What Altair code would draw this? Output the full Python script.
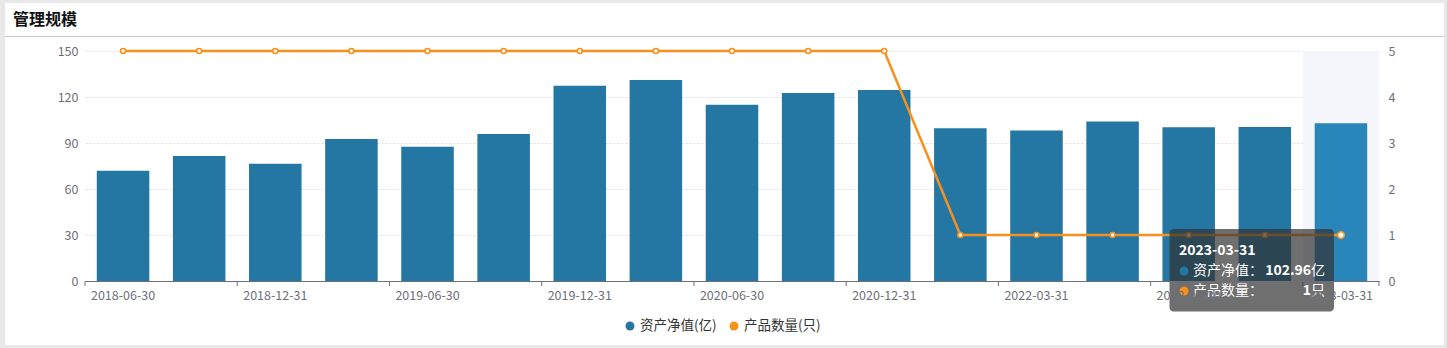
import altair as alt
import pandas as pd

# ---- data ----
cats = ["2018-06-30", "2018-09-30", "2018-12-31", "2019-03-31", "2019-06-30",
        "2019-09-30", "2019-12-31", "2020-03-31", "2020-06-30", "2020-09-30",
        "2020-12-31", "2021-12-31", "2022-03-31", "2022-06-30", "2022-09-30",
        "2022-12-31", "2023-03-31"]
nav = [71.9, 81.5, 76.5, 92.6, 87.6, 95.9, 127.4, 131.1, 115.0, 122.6,
       124.6, 99.7, 98.2, 104.1, 100.2, 100.4, 102.96]
counts = [5, 5, 5, 5, 5, 5, 5, 5, 5, 5, 5, 1, 1, 1, 1, 1, 1]
label_cats = cats[::2]
title_text = "管理规模"
legend_labels = ["资产净值(亿)", "产品数量(只)"]
tip_date = "2023-03-31"
tip_names = ["资产净值：", "产品数量："]
tip_values = ["102.96", "1"]
tip_units = ["亿", "只"]

BLUE = "#2377a2"
BLUE_HI = "#2886bb"
ORANGE = "#f7911d"
FRAME = "#e8e8e8"
FONT = "Noto Sans CJK SC"
W, H = 1294, 230

df = pd.DataFrame({"cat": cats, "nav": nav, "count": counts})
last = cats[-1]
one = pd.DataFrame({"a": [0]})


def txt(t, x, y, size=14, color="white", weight="normal", align="left",
        baseline="middle"):
    return alt.Chart(pd.DataFrame({"t": [t]})).mark_text(
        align=align, baseline=baseline, font=FONT, fontSize=size,
        fontWeight=weight, color=color).encode(
        x=alt.value(x), y=alt.value(y), text="t:N")


def dot(x, y, color, size=80):
    return alt.Chart(one).mark_point(filled=True, size=size, opacity=1,
                                     color=color).encode(
        x=alt.value(x), y=alt.value(y))


def strip(x, x2, y, y2, color=FRAME):
    return alt.Chart(one).mark_rect(color=color).encode(
        x=alt.value(x), x2=alt.value(x2), y=alt.value(y), y2=alt.value(y2))


xscale = alt.Scale(domain=cats, paddingInner=0, paddingOuter=0)
xaxis = alt.Axis(values=label_cats, title=None, labelAngle=0, ticks=False,
                 domainColor="#6e7079", labelColor="#6e7079", labelFontSize=12.5,
                 labelPadding=8, labelFont=FONT, grid=False)
X = alt.X("cat:N", sort=cats, scale=xscale, axis=xaxis)

# grey frame around the white panel, separator and title
frame = [
    strip(-85, 1362, -51, -48),
    strip(-85, -80, -51, 297),
    strip(1359, 1362, -51, 297),
    strip(-85, 1362, 294, 297),
]
sep = alt.Chart(one).mark_rule(color="#cccccc", strokeWidth=1).encode(
    x=alt.value(-80), x2=alt.value(1359), y=alt.value(-14.5))
title = txt(title_text, -72, -26, size=16, color="#111111", weight="bold",
            baseline="alphabetic")

# highlight band for hovered category
band = alt.Chart(df).transform_filter(alt.datum.cat == last).mark_rect(
    color="#f4f6fb").encode(x=X, y=alt.value(0), y2=alt.value(H))

bars = alt.Chart(df).mark_bar(width=alt.RelativeBandSize(0.69)).encode(
    x=X,
    y=alt.Y("nav:Q", scale=alt.Scale(domain=[0, 150]),
            axis=alt.Axis(values=[0, 30, 60, 90, 120, 150], title=None,
                          domain=False, ticks=False, labelPadding=7,
                          labelColor="#6e7079", labelFontSize=12.5,
                          labelFont=FONT, grid=True, gridColor="#dddddd",
                          gridDash=[2, 2], orient="left")),
    color=alt.condition(alt.datum.cat == last, alt.value(BLUE_HI), alt.value(BLUE)),
)

yr = alt.Y("count:Q", scale=alt.Scale(domain=[0, 5]),
           axis=alt.Axis(values=[0, 1, 2, 3, 4, 5], title=None, orient="right",
                         domain=False, ticks=False, labelPadding=9,
                         labelColor="#6e7079", labelFontSize=12.5,
                         labelFont=FONT, grid=False))
line = alt.Chart(df).mark_line(color=ORANGE, strokeWidth=2.5).encode(x=X, y=yr)
pts = alt.Chart(df).mark_point(filled=True, fill="white", stroke=ORANGE,
                               strokeWidth=1.6, opacity=1).encode(
    x=X, y=yr,
    size=alt.condition(alt.datum.cat == last, alt.value(45), alt.value(25)))
right = alt.layer(line, pts)

# x-axis ticks at band edges of labelled categories
ticks = alt.Chart(pd.DataFrame({"cat": label_cats})).mark_rule(
    color="#6e7079").encode(
    x=alt.X("cat:N", sort=cats, scale=xscale, axis=xaxis, bandPosition=0),
    y=alt.value(H), y2=alt.value(H + 5))
tick_end = alt.Chart(one).mark_rule(color="#6e7079").encode(
    x=alt.value(W), y=alt.value(H), y2=alt.value(H + 5))

left_layer = alt.layer(band, bars, ticks, tick_end)

# legend + static tooltip (pure decoration, pixel positioned)
deco = frame + [
    sep, title,
    dot(545, 275, BLUE), txt(legend_labels[0], 555, 275, size=13.5, color="#333333"),
    dot(649, 275, ORANGE), txt(legend_labels[1], 659, 275, size=13.5, color="#333333"),
    alt.Chart(one).mark_rect(color="#323232", opacity=0.7, cornerRadius=4).encode(
        x=alt.value(1084.5), x2=alt.value(1249), y=alt.value(178), y2=alt.value(260.5)),
    txt(tip_date, 1094, 203.5, weight="bold", baseline="alphabetic"),
    dot(1099, 220, BLUE), txt(tip_names[0], 1108, 220),
    txt(tip_values[0], 1226, 220, weight="bold", align="right"),
    txt(tip_units[0], 1240, 220, align="right"),
    dot(1099, 240, ORANGE), txt(tip_names[1], 1108, 240),
    txt(tip_values[1], 1226, 240, weight="bold", align="right"),
    txt(tip_units[1], 1240, 240, align="right"),
]

chart = alt.layer(left_layer, right, *deco).resolve_scale(
    y="independent").properties(
    width=W, height=H,
    autosize=alt.AutoSizeParams(type="none"),
    padding={"left": 85, "top": 51, "right": 68, "bottom": 67},
    background="white",
).configure_view(stroke=None)

chart.save("out.html", embed_options={"renderer": "svg", "actions": False})
